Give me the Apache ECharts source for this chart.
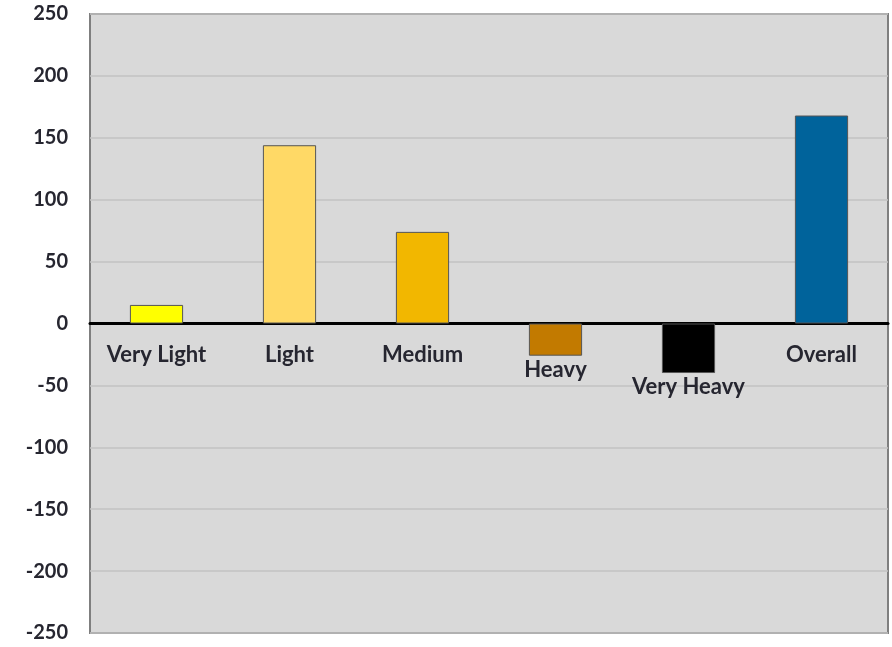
<!DOCTYPE html>
<html>
<head>
<meta charset="utf-8">
<script src="https://cdn.jsdelivr.net/npm/echarts@6/dist/echarts.min.js"></script>
<style>
  html, body { margin: 0; padding: 0; background: #ffffff; }
  #chart { width: 892px; height: 647px; }
</style>
</head>
<body>
<div id="chart"></div>
<script>
// Rider categories and their values
const categories = ['Very Light', 'Light', 'Medium', 'Heavy', 'Very Heavy', 'Overall'];
const values = [15, 144, 74, -26, -40, 168];
const barColors = ['#ffff00', '#ffd966', '#f2b700', '#c27a00', '#000000', '#00639b'];

const chart = echarts.init(document.getElementById('chart'), null, { renderer: 'canvas' });

// category names sit under the zero line, or under the bar end for negative bars
const data = values.map((v, i) => ({
  value: v,
  itemStyle: { color: barColors[i] },
  label: { distance: v >= 0 ? 20 : 3 }
}));

chart.setOption({
  animation: false,
  backgroundColor: '#ffffff',
  grid: {
    left: 90, right: 4, top: 14, bottom: 14,
    show: true,
    backgroundColor: '#d9d9d9',
    borderColor: '#7f7f7f',
    borderWidth: 2
  },
  xAxis: {
    type: 'category',
    data: categories,
    axisLine: { show: true, onZero: true, lineStyle: { color: '#000000', width: 3 } },
    axisTick: { show: false },
    axisLabel: { show: false },
    splitLine: { show: false }
  },
  yAxis: {
    type: 'value',
    min: -250, max: 250, interval: 50,
    axisLine: { show: false },
    axisTick: { show: false },
    axisLabel: {
      margin: 22,
      color: '#262630',
      fontFamily: 'Lato',
      fontWeight: 'bold',
      fontSize: 20
    },
    splitLine: { show: true, lineStyle: { color: '#c2c2c2', width: 1.5 } }
  },
  series: [{
    type: 'bar',
    data: data,
    barWidth: '40%',
    itemStyle: { borderColor: '#555555', borderWidth: 1 },
    label: {
      show: true,
      position: 'bottom',
      formatter: '{b}',
      color: '#262630',
      fontFamily: 'Lato',
      fontWeight: 'bold',
      fontSize: 22
    }
  }]
});
</script>
</body>
</html>
